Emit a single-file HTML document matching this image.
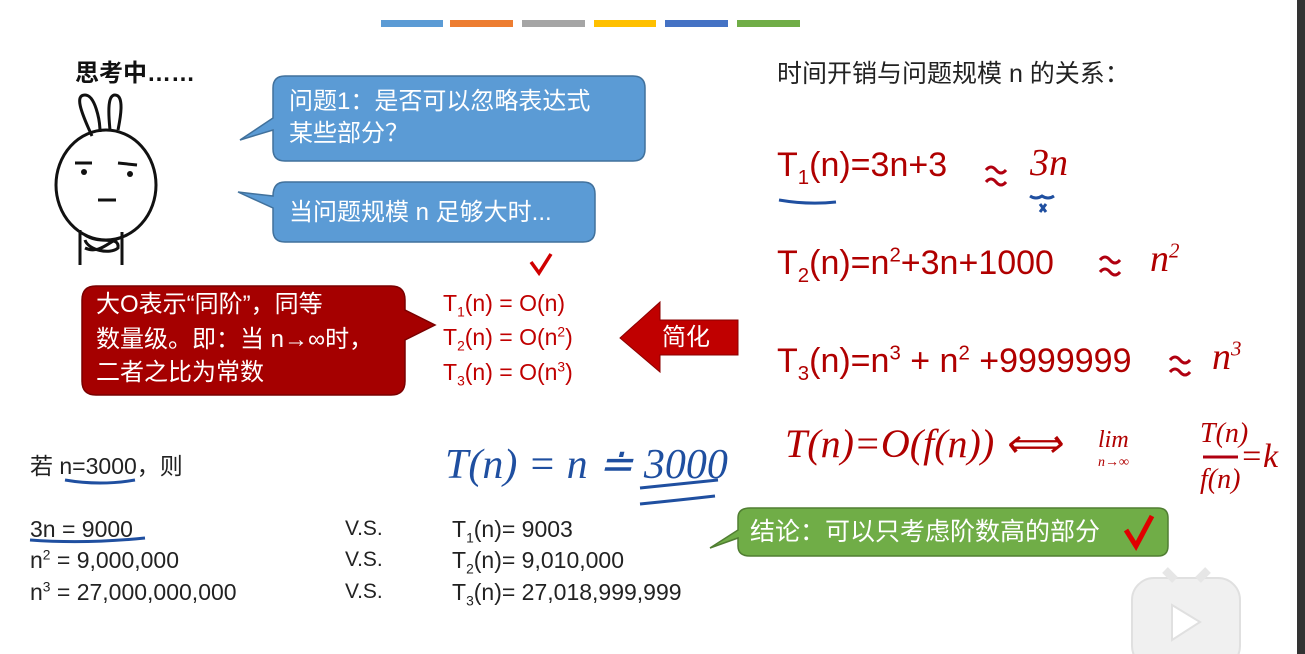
<!DOCTYPE html>
<html><head><meta charset="utf-8"><style>
body{margin:0;width:1305px;height:654px;background:#fff;position:relative;overflow:hidden;font-family:"Liberation Sans","Noto Sans CJK SC",sans-serif}
.a{position:absolute;white-space:nowrap;line-height:1}
.w{color:#fff;font-size:24px}
.r{color:#b00000}
.k{color:#222;font-size:23px}
.hw{font-family:"Liberation Serif",serif;font-style:italic}
sub,sup{font-size:60%;line-height:0}
</style></head><body>
<div class="a" style="left:381px;top:20px;width:62px;height:7px;background:#5b9bd5"></div>
<div class="a" style="left:450px;top:20px;width:63px;height:7px;background:#ed7d31"></div>
<div class="a" style="left:522px;top:20px;width:63px;height:7px;background:#a5a5a5"></div>
<div class="a" style="left:594px;top:20px;width:62px;height:7px;background:#ffc000"></div>
<div class="a" style="left:665px;top:20px;width:63px;height:7px;background:#4472c4"></div>
<div class="a" style="left:737px;top:20px;width:63px;height:7px;background:#70ad47"></div>
<div class="a" style="left:1297px;top:0;width:8px;height:654px;background:#333"></div>

<div class="a" style="left:75px;top:62px;font-size:24px;font-weight:bold;color:#111">思考中……</div>

<svg class="a" style="left:0;top:0" width="1305" height="654">
<g fill="none" stroke="#111" stroke-width="3">
<path d="M92 136 C80 110 75 95 85 95 C95 95 100 120 100 132"/>
<path d="M110 130 C108 110 108 95 115 95 C125 95 120 120 118 130"/>
<ellipse cx="106" cy="185" rx="50" ry="55"/>
<path d="M80 230 L80 265 M122 232 L122 265"/>
<path d="M85 235 C100 245 120 235 118 248 C110 255 88 250 85 240 M120 238 C110 240 100 255 85 248"/>
<path d="M75 163 L92 163 M118 163 L137 165"/>
<path d="M98 200 L116 200"/>
</g>
<circle cx="84" cy="172" r="3" fill="#111"/><circle cx="130" cy="174" r="3" fill="#111"/>

<path d="M285 76 H633 Q645 76 645 88 V149 Q645 161 633 161 H285 Q273 161 273 149 V130 L240 140 L273 118 V88 Q273 76 285 76Z" fill="#5b9bd5" stroke="#41719c" stroke-width="1.5"/>
<path d="M285 182 H583 Q595 182 595 194 V230 Q595 242 583 242 H285 Q273 242 273 230 V208 L238 192 L273 196 Q273 182 285 182Z" fill="#5b9bd5" stroke="#41719c" stroke-width="1.5"/>
<path d="M96 286 H391 Q405 286 405 300 V310 L435 325 L405 340 V381 Q405 395 391 395 H96 Q82 395 82 381 V300 Q82 286 96 286Z" fill="#a50000" stroke="#7a0000" stroke-width="1.5"/>
<path d="M531 262 L539 273 L551 254" stroke="#d00000" stroke-width="3.5" fill="none"/>
<path d="M620 338 L660 302 V320 H738 V355 H660 V372Z" fill="#c00000" stroke="#8a0000"/>
<path d="M750 508 H1158 Q1168 508 1168 518 V546 Q1168 556 1158 556 H750 Q738 556 738 546 V538 L710 548 L738 530 V518 Q738 508 750 508Z" fill="#70ad47" stroke="#507e32" stroke-width="1.5"/>
<path d="M1126 530 L1136 546 L1152 516" stroke="#e00000" stroke-width="5" fill="none"/>

<g stroke="#1f4fa0" stroke-width="3" fill="none">
<path d="M779 200 Q808 205 836 202"/>
<path d="M1030 196 q6 4 12 0 q6 4 12 0 M1040 204 l6 8 M1046 204 l-6 8"/>
<path d="M65 480 Q100 486 135 480"/>
<path d="M30 540 Q85 544 145 538"/>
<path d="M640 488 Q680 484 718 480 M640 504 Q680 500 715 496"/>
</g>
<g fill="none" stroke="#b00010" stroke-width="3">
<path d="M986 170 q5 -6 10 0 q5 6 10 0 M986 182 q5 -6 10 0 q5 6 10 0"/>
<path d="M1100 260 q5 -6 10 0 q5 6 10 0 M1100 272 q5 -6 10 0 q5 6 10 0"/>
<path d="M1170 360 q5 -6 10 0 q5 6 10 0 M1170 372 q5 -6 10 0 q5 6 10 0"/>
<path d="M1203 457 H1238"/>
</g>
<g fill="#f0f0f0" stroke="#e0e0e0" stroke-width="2">
<rect x="1132" y="578" width="108" height="90" rx="22"/>
<path d="M1165 570 L1175 580 M1208 570 L1198 580" stroke="#e6e6e6" stroke-width="8"/>
</g>
<path d="M1172 605 L1200 622 L1172 640Z" fill="#fff" stroke="#e0e0e0" stroke-width="2"/>
</svg>

<div class="a w" style="left:289px;top:90px">问题1：是否可以忽略表达式</div>
<div class="a w" style="left:289px;top:122px">某些部分？</div>
<div class="a w" style="left:289px;top:201px">当问题规模 n 足够大时...</div>
<div class="a w" style="left:96px;top:293px">大O表示“同阶”，同等</div>
<div class="a w" style="left:96px;top:328px">数量级。即：当 n→∞时，</div>
<div class="a w" style="left:96px;top:361px">二者之比为常数</div>
<div class="a r" style="left:443px;top:292px;font-size:23px;color:#c00000">T<sub>1</sub>(n) = O(n)</div>
<div class="a r" style="left:443px;top:326px;font-size:23px;color:#c00000">T<sub>2</sub>(n) = O(n<sup>2</sup>)</div>
<div class="a r" style="left:443px;top:361px;font-size:23px;color:#c00000">T<sub>3</sub>(n) = O(n<sup>3</sup>)</div>
<div class="a w" style="left:662px;top:326px">简化</div>

<div class="a k" style="left:777px;top:62px;font-size:25px">时间开销与问题规模 n 的关系：</div>
<div class="a r" style="left:777px;top:148px;font-size:34px">T<sub>1</sub>(n)=3n+3</div>
<div class="a r hw" style="left:1030px;top:144px;font-size:38px">3n</div>
<div class="a r" style="left:777px;top:246px;font-size:34px">T<sub>2</sub>(n)=n<sup>2</sup>+3n+1000</div>
<div class="a r hw" style="left:1150px;top:240px;font-size:38px">n<sup style="font-size:55%">2</sup></div>
<div class="a r" style="left:777px;top:344px;font-size:34px">T<sub>3</sub>(n)=n<sup>3</sup> + n<sup>2</sup> +9999999</div>
<div class="a r hw" style="left:1212px;top:338px;font-size:38px">n<sup style="font-size:55%">3</sup></div>
<div class="a r hw" style="left:785px;top:424px;font-size:40px">T(n)=O(f(n)) ⟺</div>
<div class="a r hw" style="left:1098px;top:428px;font-size:24px">lim</div>
<div class="a r hw" style="left:1098px;top:456px;font-size:14px">n→∞</div>
<div class="a r hw" style="left:1200px;top:420px;font-size:28px">T(n)</div>
<div class="a r hw" style="left:1200px;top:466px;font-size:28px">f(n)</div>
<div class="a r hw" style="left:1240px;top:440px;font-size:34px">=k</div>

<div class="a k" style="left:30px;top:455px">若 n=3000，则</div>
<div class="a hw" style="left:445px;top:444px;font-size:42px;color:#1f4fa0">T(n) = n ≐ 3000</div>
<div class="a k" style="left:30px;top:518px">3n = 9000</div>
<div class="a k" style="left:30px;top:549px">n<sup>2</sup> = 9,000,000</div>
<div class="a k" style="left:30px;top:581px">n<sup>3</sup> = 27,000,000,000</div>
<div class="a k" style="left:345px;top:518px;font-size:21px">V.S.</div>
<div class="a k" style="left:345px;top:549px;font-size:21px">V.S.</div>
<div class="a k" style="left:345px;top:581px;font-size:21px">V.S.</div>
<div class="a k" style="left:452px;top:518px">T<sub>1</sub>(n)= 9003</div>
<div class="a k" style="left:452px;top:549px">T<sub>2</sub>(n)= 9,010,000</div>
<div class="a k" style="left:452px;top:581px">T<sub>3</sub>(n)= 27,018,999,999</div>
<div class="a w" style="left:750px;top:520px;font-size:25px">结论：可以只考虑阶数高的部分</div>
</body></html>
